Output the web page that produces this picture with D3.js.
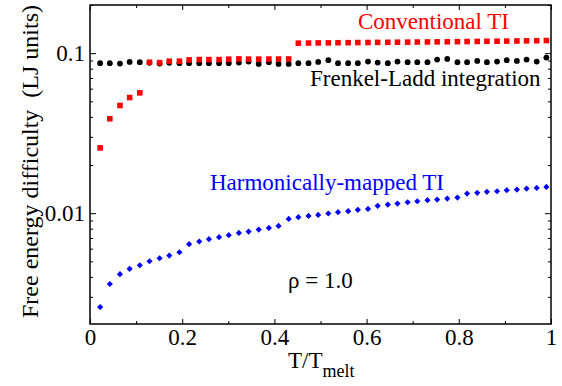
<!DOCTYPE html>
<html>
<head>
    <meta charset="utf-8">
    <title>Free energy difficulty</title>
    <script src="https://cdnjs.cloudflare.com/ajax/libs/d3/7.8.5/d3.min.js"></script>
</head>
<body style="margin:0">
    <div id="fig"></div>
    <script>
        // T / T_melt sample points (shared by all three series)
        const tValues = [0.022, 0.043, 0.065, 0.086, 0.108, 0.129, 0.151, 0.172, 0.194, 0.215,
                         0.237, 0.258, 0.280, 0.301, 0.323, 0.344, 0.366, 0.388, 0.409, 0.431,
                         0.452, 0.474, 0.495, 0.517, 0.538, 0.560, 0.581, 0.603, 0.624, 0.646,
                         0.667, 0.689, 0.710, 0.732, 0.753, 0.775, 0.797, 0.818, 0.840, 0.861,
                         0.883, 0.904, 0.926, 0.947, 0.969, 0.990];

        const frenkelLadd = [0.0866, 0.0866, 0.0861, 0.0882, 0.0878, 0.0870, 0.0861, 0.0870, 0.0866, 0.0866,
                             0.0866, 0.0866, 0.0866, 0.0866, 0.0873, 0.0886, 0.0857, 0.0878, 0.0857, 0.0857,
                             0.0866, 0.0866, 0.0882, 0.0904, 0.0866, 0.0866, 0.0866, 0.0886, 0.0873, 0.0866,
                             0.0886, 0.0878, 0.0878, 0.0878, 0.0912, 0.0921, 0.0878, 0.0878, 0.0895, 0.0878,
                             0.0886, 0.0904, 0.0895, 0.0912, 0.0886, 0.0939];

        const conventionalTI = [0.0256, 0.0389, 0.0471, 0.0528, 0.0565, 0.0878, 0.0873, 0.0891, 0.0891, 0.0908,
                                0.0912, 0.0912, 0.0912, 0.0917, 0.0921, 0.0918, 0.0918, 0.0919, 0.0919, 0.0920,
                                0.1155, 0.1157, 0.1159, 0.1160, 0.1162, 0.1163, 0.1165, 0.1166, 0.1168, 0.1169,
                                0.1171, 0.1172, 0.1174, 0.1175, 0.1177, 0.1178, 0.1180, 0.1182, 0.1184, 0.1186,
                                0.1188, 0.1190, 0.1192, 0.1194, 0.1196, 0.1199];

        const harmonicTI = [0.00259, 0.00361, 0.00416, 0.00449, 0.00473, 0.00501, 0.00523, 0.00543, 0.00570, 0.00640,
                            0.00665, 0.00688, 0.00708, 0.00729, 0.00753, 0.00767, 0.00790, 0.00809, 0.00833, 0.00921,
                            0.00944, 0.00962, 0.00976, 0.00995, 0.01015, 0.01029, 0.01049, 0.01064, 0.01111, 0.01132,
                            0.01148, 0.01171, 0.01188, 0.01206, 0.01216, 0.01234, 0.01252, 0.01326, 0.01340, 0.01359,
                            0.01372, 0.01393, 0.01404, 0.01425, 0.01439, 0.01460];

        const xMajorTicks = [0, 0.2, 0.4, 0.6, 0.8, 1];
        const xMinorTicks = [0.1, 0.3, 0.5, 0.7, 0.9];
        const yMajorTicks = [0.01, 0.1];
        const yMinorTicks = [0.003, 0.004, 0.005, 0.006, 0.007, 0.008, 0.009,
                             0.02, 0.03, 0.04, 0.05, 0.06, 0.07, 0.08, 0.09, 0.2];

        const margin = {top: 5, right: 11, bottom: 62, left: 90};
        const width = 562 - margin.left - margin.right;
        const height = 386 - margin.top - margin.bottom;

        const root = d3.select('#fig')
            .append('svg')
            .attr('width', 562)
            .attr('height', 386);

        const svg = root.append('g')
            .attr('transform', `translate(${margin.left},${margin.top})`);

        const x = d3.scaleLinear().domain([0, 1]).range([0, width]);
        const y = d3.scaleLog().domain([0.00203, 0.2]).range([height, 0]);

        // Axes: ticks point inward on all four sides
        const fmt = d => d === 0 ? '0' : d === 1 ? '1' : String(d);

        const axes = [
            [d3.axisBottom(x).tickValues(xMajorTicks).tickSize(-5).tickPadding(4.7).tickFormat(fmt), `translate(0,${height})`],
            [d3.axisBottom(x).tickValues(xMinorTicks).tickSize(-3).tickFormat(''), `translate(0,${height})`],
            [d3.axisTop(x).tickValues(xMajorTicks).tickSize(-5).tickFormat(''), null],
            [d3.axisTop(x).tickValues(xMinorTicks).tickSize(-3).tickFormat(''), null],
            [d3.axisLeft(y).tickValues(yMajorTicks).tickSize(-6).tickPadding(5).tickFormat(d => String(d)), null],
            [d3.axisLeft(y).tickValues(yMinorTicks).tickSize(-3).tickFormat(''), null],
            [d3.axisRight(y).tickValues(yMajorTicks).tickSize(-6).tickFormat(''), `translate(${width},0)`],
            [d3.axisRight(y).tickValues(yMinorTicks).tickSize(-3).tickFormat(''), `translate(${width},0)`]
        ];
        axes.forEach(([axis, tr]) => {
            svg.append('g')
                .attr('transform', tr)
                .call(axis)
                .attr('font-family', null)
                .attr('font-size', null);
        });

        svg.selectAll('.domain').remove();
        svg.selectAll('.tick line').attr('stroke', '#000').attr('stroke-width', 1);
        svg.selectAll('.tick text')
            .attr('fill', '#000')
            .attr('font-family', 'Times New Roman')
            .attr('font-size', 23);

        // Frame
        svg.append('rect')
            .attr('width', width)
            .attr('height', height)
            .attr('fill', 'none')
            .attr('stroke', '#000')
            .attr('stroke-width', 1.5);

        // Frenkel-Ladd (black circles)
        svg.append('g').selectAll('circle')
            .data(tValues.map((t, i) => [t, frenkelLadd[i]]))
            .join('circle')
            .attr('cx', d => x(d[0]))
            .attr('cy', d => y(d[1]))
            .attr('r', 2.9)
            .attr('fill', '#000');

        // Conventional TI (red squares)
        svg.append('g').selectAll('path')
            .data(tValues.map((t, i) => [t, conventionalTI[i]]))
            .join('path')
            .attr('d', d3.symbol(d3.symbolSquare, 31))
            .attr('transform', d => `translate(${x(d[0])},${y(d[1])})`)
            .attr('fill', '#ff0000');

        // Harmonically-mapped TI (blue diamonds)
        svg.append('g').selectAll('path')
            .data(tValues.map((t, i) => [t, harmonicTI[i]]))
            .join('path')
            .attr('d', d3.symbol(d3.symbolSquare, 19))
            .attr('transform', d => `translate(${x(d[0])},${y(d[1])}) rotate(45)`)
            .attr('fill', '#0000ff');

        // In-plot labels
        const labels = [
            {text: 'Conventional TI', color: '#ff0000', x: 268, y: 24},
            {text: 'Frenkel-Ladd integration', color: '#000', x: 220, y: 81},
            {text: 'Harmonically-mapped TI', color: '#0000ff', x: 120, y: 185},
            {text: 'ρ = 1.0', color: '#000', x: 198, y: 283}
        ];
        svg.selectAll('.plot-label')
            .data(labels)
            .join('text')
            .attr('class', 'plot-label')
            .attr('x', d => d.x)
            .attr('y', d => d.y)
            .attr('fill', d => d.color)
            .attr('font-family', 'Times New Roman')
            .attr('font-size', 23)
            .text(d => d.text);

        // Axis titles
        const xTitle = svg.append('text')
            .attr('x', 198)
            .attr('y', 363)
            .attr('font-family', 'Times New Roman')
            .attr('font-size', 23)
            .attr('fill', '#000');
        xTitle.append('tspan').text('T/T');
        xTitle.append('tspan')
            .attr('dy', 9)
            .attr('font-size', 18)
            .text('melt');

        svg.append('text')
            .attr('transform', `translate(-52,${height / 2 - 3}) rotate(-90)`)
            .attr('text-anchor', 'middle')
            .attr('font-family', 'Times New Roman')
            .attr('font-size', 24)
            .attr('xml:space', 'preserve')
            .attr('fill', '#000')
            .text('Free energy difficulty  (LJ units)');
    </script>
</body>
</html>
